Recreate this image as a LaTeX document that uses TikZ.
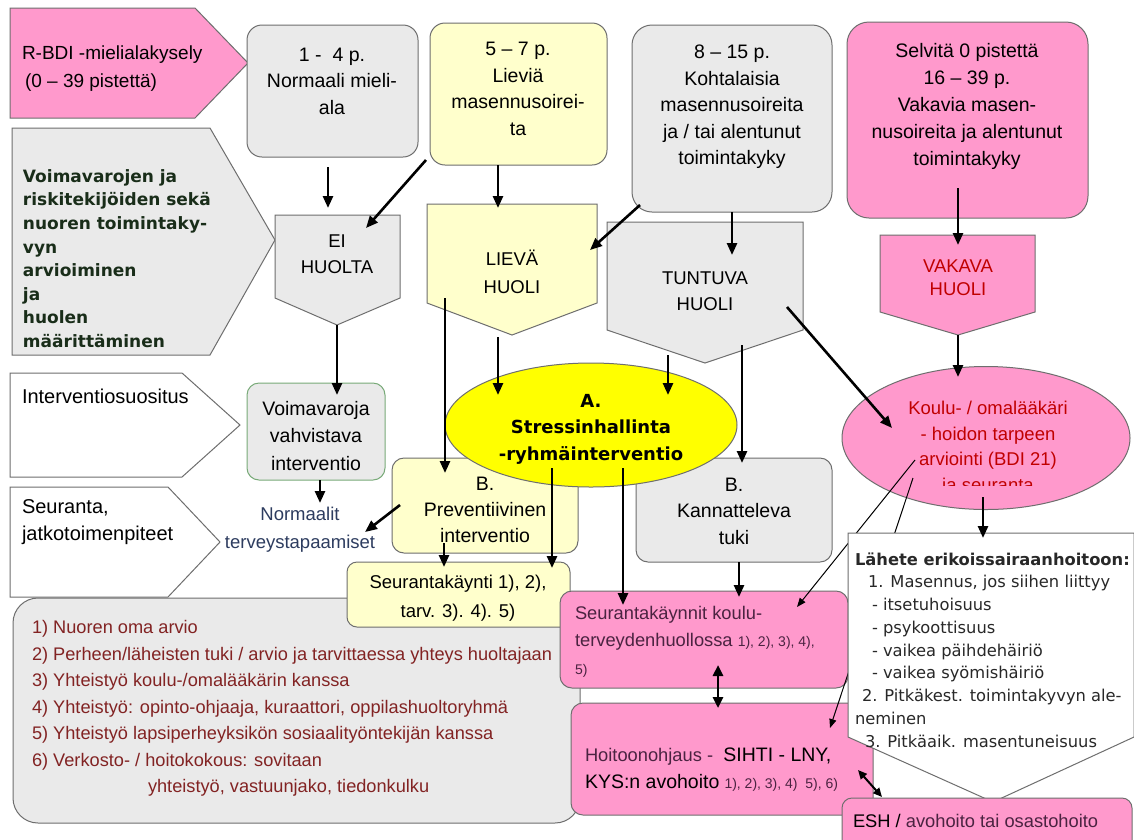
\documentclass[tikz,border=0pt]{standalone}
\usepackage{fontspec}
\setmainfont{Liberation Sans}
\newfontfamily\vfont{DejaVu Sans}
\usetikzlibrary{arrows.meta,shapes.geometric}
\definecolor{pinkf}{RGB}{255,153,204}
\definecolor{greyf}{RGB}{234,234,234}
\definecolor{ltyel}{RGB}{255,255,204}
\definecolor{yel}{RGB}{255,255,0}
\definecolor{bord}{RGB}{110,110,110}
\definecolor{greenb}{RGB}{120,170,120}
\definecolor{dkred}{RGB}{192,0,0}
\definecolor{listred}{RGB}{130,35,35}
\definecolor{slate}{RGB}{45,60,95}
\definecolor{dkgreen}{RGB}{25,45,25}
\definecolor{purp}{RGB}{75,35,65}
\definecolor{dkgrey}{RGB}{40,40,40}
\begin{document}
\begin{tikzpicture}[x=1pt,y=-1pt,
  every node/.style={inner sep=0pt, outer sep=0pt, align=center, font=\fontsize{19.5}{26.5}\selectfont},
  shp/.style={draw=bord, line width=1pt},
  arr/.style={-{Triangle[length=12pt,width=10pt]}, line width=2.6pt},
  darr/.style={{Triangle[length=11pt,width=10pt]}-{Triangle[length=11pt,width=10pt]}, line width=2.6pt},
  tarr/.style={-{Triangle[length=9pt,width=7pt]}, line width=1pt},
  lbl/.style={anchor=west, align=left, font=\fontsize{20}{27}\selectfont},
  small/.style={font=\fontsize{14}{14}\selectfont}
]
\useasboundingbox (0,0) rectangle (1134,839);
\fill[white] (0,0) rectangle (1134,839);

% ---------- left pentagons ----------
\draw[shp, fill=pinkf] (10,8) -- (195,8) -- (248,63) -- (195,118) -- (10,118) -- cycle;
\draw[shp, fill=greyf] (12,128) -- (210,128) -- (275,240) -- (210,355) -- (12,355) -- cycle;
\draw[shp, fill=white] (10,373) -- (182,373) -- (240,425) -- (182,477) -- (10,477) -- cycle;
\draw[shp, fill=white] (10,487) -- (168,487) -- (220,542) -- (168,597) -- (10,597) -- cycle;

% ---------- top boxes ----------
\draw[shp, fill=greyf, rounded corners=15pt] (247,25) rectangle (418,157);
\draw[shp, fill=ltyel, rounded corners=15pt] (430,23) rectangle (607,165);
\draw[shp, fill=greyf, rounded corners=20pt] (632,25) rectangle (832,212);
\draw[shp, fill=pinkf, rounded corners=22pt] (847,22) rectangle (1088,218);

% ---------- worry pentagons ----------
\draw[shp, fill=greyf] (275,215) -- (400,215) -- (400,298) -- (337,325) -- (275,298) -- cycle;
\draw[shp, fill=ltyel] (427,204) -- (597,204) -- (597,303) -- (512,335) -- (427,303) -- cycle;
\draw[shp, fill=greyf] (607,222) -- (803,222) -- (803,330) -- (705,363) -- (607,330) -- cycle;
\draw[shp, fill=pinkf] (880,235) -- (1035,235) -- (1035,312) -- (958,335) -- (880,312) -- cycle;

% ---------- middle boxes ----------
\draw[shp, draw=greenb, fill=greyf, rounded corners=12pt] (247,383) rectangle (385,480);
\draw[shp, fill=ltyel, rounded corners=12pt] (392,458) rectangle (578,553);
\draw[shp, fill=greyf, rounded corners=12pt] (636,458) rectangle (832,562);

% ---------- bottom boxes ----------
\draw[shp, fill=greyf, rounded corners=25pt] (13,598) rectangle (580,823);
\draw[shp, fill=ltyel, rounded corners=10pt] (347,562) rectangle (570,627);
\draw[shp, fill=pinkf, rounded corners=12pt] (560,591) rectangle (848,688);
\draw[shp, fill=pinkf, rounded corners=12pt] (571,703) rectangle (873,815);

% ---------- ellipses ----------
\node[shp, fill=yel, ellipse, minimum width=292pt, minimum height=124pt] (ellA) at (591,425) {};
\node[shp, fill=pinkf, ellipse, minimum width=288pt, minimum height=143pt] (ellK) at (986,438) {};

% ---------- coordinates of connector ends ----------
\coordinate (c1a) at (328,167);  \coordinate (c1b) at (328,208);
\coordinate (c2a) at (426,160);  \coordinate (c2b) at (366,228);
\coordinate (c3a) at (498,165);  \coordinate (c3b) at (498,208);
\coordinate (c4a) at (640,205);  \coordinate (c4b) at (590,250);
\coordinate (c5a) at (732,212);  \coordinate (c5b) at (732,255);
\coordinate (c6a) at (958,188);  \coordinate (c6b) at (958,245);
\coordinate (c7a) at (958,335);  \coordinate (c7b) at (958,377);
\coordinate (c8a) at (787,307);  \coordinate (c8b) at (892,428);
\coordinate (c9a) at (337,325);  \coordinate (c9b) at (337,395);
\coordinate (c10a) at (320,480); \coordinate (c10b) at (320,503);
\coordinate (c11a) at (400,505); \coordinate (c11b) at (365,532);
\coordinate (c12a) at (445,298); \coordinate (c12b) at (445,473);
\coordinate (c13a) at (498,337); \coordinate (c13b) at (498,395);
\coordinate (c14a) at (668,355); \coordinate (c14b) at (668,395);
\coordinate (c15a) at (742,345); \coordinate (c15b) at (742,463);
\coordinate (c16a) at (552,468); \coordinate (c16b) at (552,568);
\coordinate (c17a) at (623,468); \coordinate (c17b) at (623,605);
\coordinate (c18a) at (444,543); \coordinate (c18b) at (444,567);
\coordinate (c19a) at (739,562); \coordinate (c19b) at (739,597);
\coordinate (c20a) at (983,497); \coordinate (c20b) at (983,538);
\coordinate (c21a) at (718,665); \coordinate (c21b) at (718,708);
\coordinate (c22a) at (858,770); \coordinate (c22b) at (882,797);
\coordinate (c23a) at (915,460); \coordinate (c23b) at (797,607);
\coordinate (c24a) at (913,478); \coordinate (c24b) at (830,728);

% thin connectors (behind the referral shape)
\draw[tarr] (c23a) -- (c23b);
\draw[tarr] (c24a) -- (c24b);

% ---------- referral pentagon and ESH ----------
\draw[shp, fill=white] (848,533) -- (1134,533) -- (1134,737) -- (993,802) -- (848,737) -- cycle;
\draw[shp, fill=pinkf, rounded corners=10pt] (842,798) rectangle (1132,850);

% ---------- thick connectors ----------
\foreach \i in {1,...,20} { \draw[arr] (c\i a) -- (c\i b); }
\draw[darr] (c21a) -- (c21b);
\draw[{Triangle[length=9pt,width=8pt]}-{Triangle[length=9pt,width=8pt]}, line width=2pt] (c22a) -- (c22b);

% ---------- texts ----------
\node[anchor=west, align=left, font=\fontsize{19}{28}\selectfont] (tRBDI) at (22,69)
  {R-BDI -mielialakysely\\\hspace*{3pt}(0 – 39 pistettä)};
\node (tNorm) at (332,81) {1 -\ \ 4 p.\\Normaali mieli-\\ala};
\node (tLiev) at (518,89) {5 – 7 p.\\Lieviä\\masennusoirei-\\ta};
\node (tKoht) at (732,107) {8 – 15 p.\\Kohtalaisia\\masennusoireita\\ja / tai alentunut\\toimintakyky};
\node[font=\fontsize{19.5}{27}\selectfont] (tSelv) at (967,106) {Selvitä 0 pistettä\\16 – 39 p.\\Vakavia masen-\\nusoireita ja alentunut\\toimintakyky};

\node[anchor=west, align=left, text=dkgreen, font=\vfont\bfseries\fontsize{17}{23.6}\selectfont] (tVoim) at (23,258.5)
  {Voimavarojen ja\\riskitekijöiden sekä\\nuoren toimintaky-\\vyn\\arvioiminen\\ja\\huolen\\määrittäminen};

\node[font=\fontsize{18.5}{26}\selectfont] (tEi) at (337,254) {EI\\HUOLTA};
\node[font=\fontsize{18.5}{28}\selectfont] (tLH) at (512,272) {LIEVÄ\\HUOLI};
\node[font=\fontsize{18.5}{26}\selectfont] (tTH) at (705,291) {TUNTUVA\\HUOLI};
\node[font=\fontsize{18.5}{23}\selectfont, text=dkred] (tVH) at (958,278) {VAKAVA\\HUOLI};

\begin{scope}
\clip (840,360) rectangle (1134,485);
\node[font=\fontsize{18.5}{25.5}\selectfont, text=dkred] (tKoulu) at (988,448)
  {Koulu- / omalääkäri\\- hoidon tarpeen\\arviointi (BDI 21)\\ja seuranta};
\end{scope}

\node[lbl] (tInt) at (22,396) {Interventiosuositus};
\node[lbl] (tSeur) at (22,522.5) {Seuranta,\\jatkotoimenpiteet};

\node[font=\fontsize{19.5}{27.5}\selectfont] (tVv) at (316,436) {Voimavaroja\\vahvistava\\interventio};
\node[font=\fontsize{18.5}{28}\selectfont, text=slate] (tNt) at (300,530) {Normaalit\\terveystapaamiset};
\node[font=\fontsize{19.5}{26}\selectfont] (tBP) at (485,510) {B.\\Preventiivinen\\interventio};
\node[font=\vfont\bfseries\fontsize{18}{26.5}\selectfont] (tA) at (591,429) {A.\\Stressinhallinta\\-ryhmäinterventio};
\node[font=\fontsize{19.5}{26.5}\selectfont] (tBK) at (734,511) {B.\\Kannatteleva\\tuki};
\node[font=\fontsize{18.5}{29}\selectfont] (tSk) at (458,598) {Seurantakäynti 1), 2),\\tarv. 3). 4). 5)};

\node[anchor=west, align=left, text=listred, font=\fontsize{18.2}{26.5}\selectfont] (tList) at (32,708.5)
  {1) Nuoren oma arvio\\
   2) Perheen/läheisten tuki / arvio ja tarvittaessa yhteys huoltajaan\\
   3) Yhteistyö koulu-/omalääkärin kanssa\\
   4) Yhteistyö: opinto-ohjaaja, kuraattori, oppilashuoltoryhmä\\
   5) Yhteistyö lapsiperheyksikön sosiaalityöntekijän kanssa\\
   6) Verkosto- / hoitokokous: sovitaan\\
   \hspace*{116pt}yhteistyö, vastuunjako, tiedonkulku};

\node[anchor=west, align=left, text=purp, font=\fontsize{18.3}{27.5}\selectfont] (tSks) at (575,641.5)
  {Seurantakäynnit koulu-\\terveydenhuollossa {\fontsize{14}{14}\selectfont 1), 2), 3), 4),}\\{\fontsize{14}{14}\selectfont 5)}};

\node[anchor=west, align=left, text=purp, font=\fontsize{18.3}{27}\selectfont] (tHo) at (585,769.5)
  {Hoitoonohjaus -\ \ {\color{black}\fontsize{19.5}{27}\selectfont SIHTI - LNY,}\\{\color{black}\fontsize{19.5}{27}\selectfont KYS:n avohoito} {\fontsize{14}{14}\selectfont 1), 2), 3), 4)\ \ 5), 6)}};

\node[anchor=west, align=left, text=purp, font=\fontsize{18.3}{22}\selectfont] (tEsh) at (853,821)
  {{\color{black}ESH /} avohoito tai osastohoito};

\node[anchor=west, align=left, text=dkgrey, font=\vfont\fontsize{16.3}{22.75}\selectfont] (tLah) at (855,650)
  {{\bfseries Lähete erikoissairaanhoitoon:}\\
   \hspace*{13pt}1. Masennus, jos siihen liittyy\\
   \hspace*{17pt}- itsetuhoisuus\\
   \hspace*{17pt}- psykoottisuus\\
   \hspace*{17pt}- vaikea päihdehäiriö\\
   \hspace*{17pt}- vaikea syömishäiriö\\
   \hspace*{7pt}2. Pitkäkest. toimintakyvyn ale-\\
   neminen\\
   \hspace*{10pt}3. Pitkäaik. masentuneisuus};
\end{tikzpicture}
\end{document}
